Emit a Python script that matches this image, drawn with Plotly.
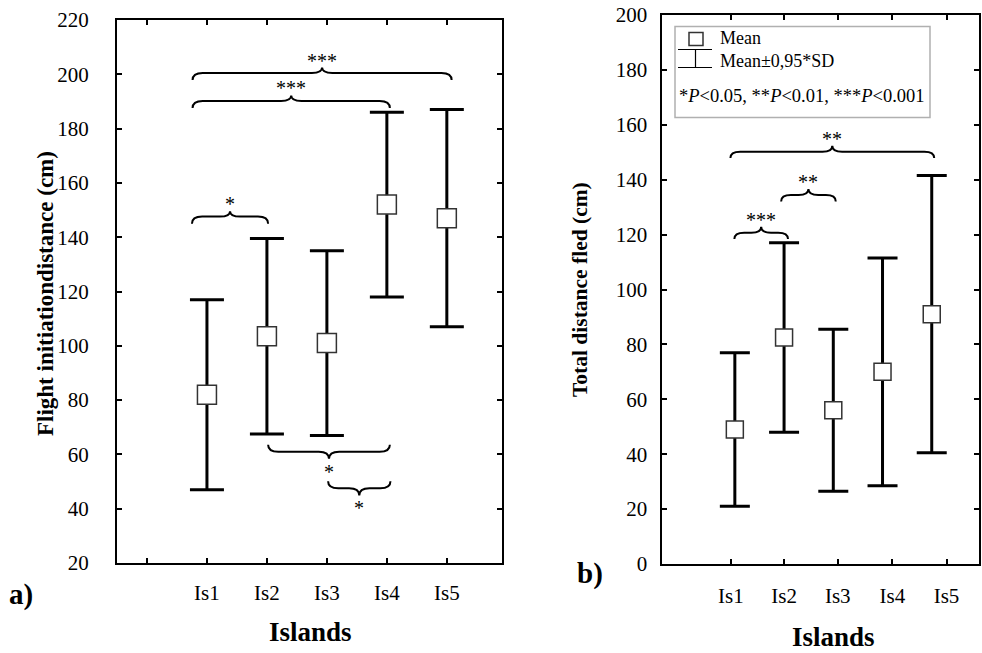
import plotly.graph_objects as go

W, H = 982, 653

# ---------------- data ----------------
islands = ["Is1", "Is2", "Is3", "Is4", "Is5"]
positions = [1, 2, 3, 4, 5]

fid_mean = [82, 103.5, 101, 152, 147]          # Flight initiation distance (cm)
fid_err = [35, 36, 34, 34, 40]                 # 0.95*SD

dist_mean = [49, 82.5, 56, 70, 91]             # Total distance fled (cm)
dist_err = [28, 34.5, 29.5, 41.5, 50.5]
dist_label_pos = [0.92, 2.0, 3.09, 4.2, 5.3]   # where panel b prints its category labels

fid_ticks = list(range(20, 221, 20))
dist_ticks = list(range(0, 201, 20))

# significance comparisons: (from, to, level, label)
fid_sig_above = [(0.76, 5.08, 200.5, "***"), (0.76, 4.05, 190.2, "***"), (0.75, 2.02, 147.6, "*")]
fid_sig_below = [(2.02, 4.05, 61.0, "*"), (3.02, 4.06, 47.5, "*")]
dist_sig_above = [(0.91, 5.05, 150.2, "**"), (1.94, 3.05, 134.4, "**"), (0.99, 2.08, 120.7, "***")]

FONT = "Liberation Serif"


def px(x):
    return x / W


def py(y):
    return 1 - y / H


def brace(x0, x1, y, dx, dend, dcusp, up=True):
    s = 1 if up else -1
    xm = (x0 + x1) / 2
    ye = y - s * dend
    yc = y + s * dcusp
    return (f"M{x0},{ye} Q{x0},{y} {x0+dx},{y} L{xm-dx},{y} Q{xm},{y} {xm},{yc} "
            f"Q{xm},{y} {xm+dx},{y} L{x1-dx},{y} Q{x1},{y} {x1},{ye}"), xm, yc


fig = go.Figure()

fig.add_trace(go.Scatter(
    x=positions, y=fid_mean, mode="markers", xaxis="x", yaxis="y",
    marker=dict(symbol="square", size=19, color="white", line=dict(color="#333", width=1.5)),
    error_y=dict(type="data", array=fid_err, color="black", thickness=3, width=17),
    showlegend=False, hoverinfo="skip"))

fig.add_trace(go.Scatter(
    x=positions, y=dist_mean, mode="markers", xaxis="x2", yaxis="y2",
    marker=dict(symbol="square", size=17, color="white", line=dict(color="#333", width=1.5)),
    error_y=dict(type="data", array=dist_err, color="black", thickness=3, width=15),
    showlegend=False, hoverinfo="skip"))

shapes = []
annotations = []

star_font = dict(family=FONT, size=20, color="black")

for (x0, x1, y, lab) in fid_sig_above:
    path, xm, yc = brace(x0, x1, y, 0.17, 2.6, 2.0, up=True)
    shapes.append(dict(type="path", path=path, xref="x", yref="y", line=dict(color="black", width=2)))
    annotations.append(dict(x=xm, y=yc, xref="x", yref="y", text=lab, showarrow=False,
                            xanchor="center", yanchor="bottom", yshift=-6, font=star_font))
for (x0, x1, y, lab) in fid_sig_below:
    path, xm, yc = brace(x0, x1, y, 0.17, 2.6, 2.6, up=False)
    shapes.append(dict(type="path", path=path, xref="x", yref="y", line=dict(color="black", width=2)))
    annotations.append(dict(x=xm, y=yc, xref="x", yref="y", text=lab, showarrow=False,
                            xanchor="center", yanchor="top", yshift=0, font=star_font))
for (x0, x1, y, lab) in dist_sig_above:
    path, xm, yc = brace(x0, x1, y, 0.2, 2.3, 2.2, up=True)
    shapes.append(dict(type="path", path=path, xref="x2", yref="y2", line=dict(color="black", width=2)))
    annotations.append(dict(x=xm, y=yc, xref="x2", yref="y2", text=lab, showarrow=False,
                            xanchor="center", yanchor="bottom", yshift=-6, font=star_font))

# legend box (panel b)
shapes.append(dict(type="rect", xref="paper", yref="paper", x0=px(675), x1=px(930), y0=py(117.5), y1=py(26.5),
                   line=dict(color="#b0b0b0", width=1.5)))
shapes.append(dict(type="rect", xref="paper", yref="paper", x0=px(689), x1=px(703), y0=py(45.5), y1=py(32.5),
                   line=dict(color="#333", width=1.5), fillcolor="white"))
for (xa, ya, xb, yb) in [(678, 49.5, 712, 49.5), (695.5, 49.5, 695.5, 67.5), (678, 67.5, 712, 67.5)]:
    shapes.append(dict(type="line", xref="paper", yref="paper", x0=px(xa), y0=py(ya), x1=px(xb), y1=py(yb),
                       line=dict(color="black", width=1.2)))

leg_font = dict(family=FONT, size=18, color="black")
annotations += [
    dict(x=px(718), y=py(38), xref="paper", yref="paper", text="Mean", showarrow=False,
         xanchor="left", yanchor="middle", font=leg_font),
    dict(x=px(718), y=py(61), xref="paper", yref="paper", text="Mean±0,95*SD", showarrow=False,
         xanchor="left", yanchor="middle", font=leg_font),
    dict(x=px(677), y=py(96), xref="paper", yref="paper",
         text="*<i>P</i>&lt;0.05, **<i>P</i>&lt;0.01, ***<i>P</i>&lt;0.001", showarrow=False,
         xanchor="left", yanchor="middle", font=dict(family=FONT, size=18.5, color="black")),
]

annotations += [
    dict(x=px(45), y=py(294), xref="paper", yref="paper", text="<b>Flight initiationdistance (cm)</b>",
         textangle=-90, showarrow=False, xanchor="center", yanchor="middle",
         font=dict(family=FONT, size=23, color="black")),
    dict(x=px(580), y=py(290), xref="paper", yref="paper", text="<b>Total distance fled (cm)</b>",
         textangle=-90, showarrow=False, xanchor="center", yanchor="middle",
         font=dict(family=FONT, size=21.5, color="black")),
    dict(x=px(310), y=py(632), xref="paper", yref="paper", text="<b>Islands</b>",
         showarrow=False, xanchor="center", yanchor="middle", font=dict(family=FONT, size=27, color="black")),
    dict(x=px(833), y=py(637), xref="paper", yref="paper", text="<b>Islands</b>",
         showarrow=False, xanchor="center", yanchor="middle", font=dict(family=FONT, size=27, color="black")),
    dict(x=px(21), y=py(594), xref="paper", yref="paper", text="<b>a)</b>",
         showarrow=False, xanchor="center", yanchor="middle", font=dict(family=FONT, size=29, color="black")),
    dict(x=px(590), y=py(573), xref="paper", yref="paper", text="<b>b)</b>",
         showarrow=False, xanchor="center", yanchor="middle", font=dict(family=FONT, size=29, color="black")),
]

tick_font = dict(family=FONT, size=21, color="black")
axis_common = dict(showline=True, linecolor="black", linewidth=2, ticks="inside", ticklen=5,
                   tickwidth=2, tickcolor="black", showgrid=False, zeroline=False, tickfont=tick_font,
                   fixedrange=True, automargin=False)

fig.update_layout(
    width=W, height=H,
    autosize=False,
    margin=dict(l=0, r=0, t=0, b=0, pad=0, autoexpand=False),
    paper_bgcolor="white", plot_bgcolor="white",
    showlegend=False,
    xaxis=dict(domain=[px(117), px(502)], range=[-0.5, 5.92], anchor="y",
               tickmode="array", tickvals=[0] + positions, ticktext=[""] + islands,
               mirror="ticks", ticklabelstandoff=10, **axis_common),
    yaxis=dict(domain=[py(563), py(20)], range=[20, 220], anchor="x",
               tickmode="array", tickvals=fid_ticks, mirror="ticks", ticklabelstandoff=22, **axis_common),
    xaxis2=dict(domain=[px(661.5), px(979)], range=[-0.49, 5.96], anchor="y2",
                tickmode="array", tickvals=dist_label_pos, ticktext=islands,
                mirror="ticks", ticklabelstandoff=12, **axis_common),
    yaxis2=dict(domain=[py(564), py(15)], range=[0, 200], anchor="x2",
                tickmode="array", tickvals=dist_ticks, mirror="ticks", ticklabelstandoff=8, **axis_common),
    shapes=shapes,
    annotations=annotations,
)

fig.write_html("out.html", config={"displayModeBar": False},
               post_script="document.body.style.margin='0px';document.body.style.overflow='hidden';")
